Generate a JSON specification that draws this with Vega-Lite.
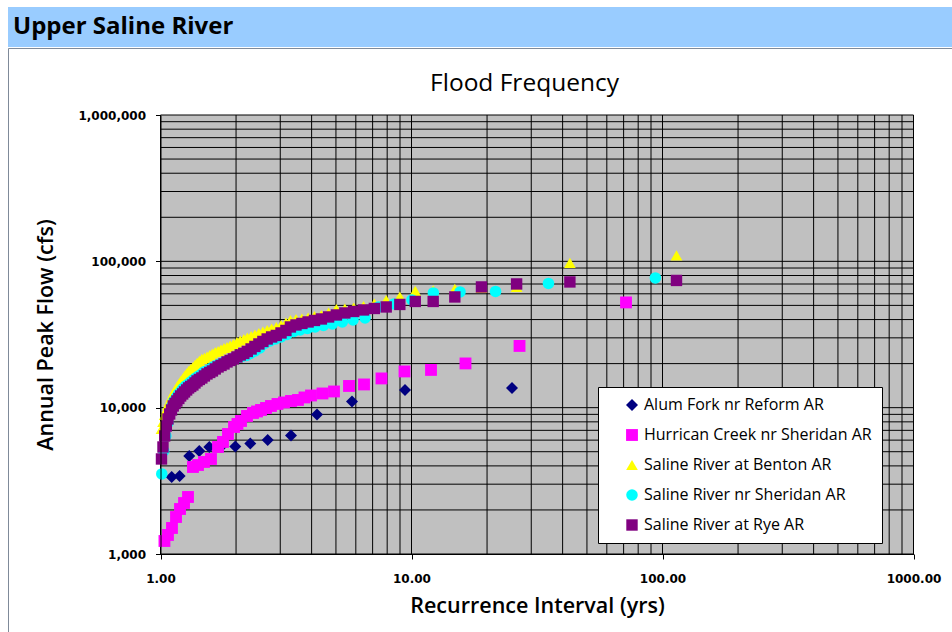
{
"$schema":"https://vega.github.io/schema/vega-lite/v6.json",
"padding":{"left":7,"top":7,"right":0,"bottom":0},
"background":"white",
"config":{"view":{"stroke":null},"font":"Open Sans"},
"spacing":0,
"datasets":{
"gx":[{"v":1},{"v":2},{"v":3},{"v":4},{"v":5},{"v":6},{"v":7},{"v":8},{"v":9},{"v":10},{"v":20},{"v":30},{"v":40},{"v":50},{"v":60},{"v":70},{"v":80},{"v":90},{"v":100},{"v":200},{"v":300},{"v":400},{"v":500},{"v":600},{"v":700},{"v":800},{"v":900},{"v":1000}],
"gy":[{"v":1000},{"v":2000},{"v":3000},{"v":4000},{"v":5000},{"v":6000},{"v":7000},{"v":8000},{"v":9000},{"v":10000},{"v":20000},{"v":30000},{"v":40000},{"v":50000},{"v":60000},{"v":70000},{"v":80000},{"v":90000},{"v":100000},{"v":200000},{"v":300000},{"v":400000},{"v":500000},{"v":600000},{"v":700000},{"v":800000},{"v":900000},{"v":1000000}],
"flows":[
{"s":"Alum Fork nr Reform AR","T":1.108,"Q":3359},
{"s":"Alum Fork nr Reform AR","T":1.192,"Q":3414},
{"s":"Alum Fork nr Reform AR","T":1.302,"Q":4677},
{"s":"Alum Fork nr Reform AR","T":1.427,"Q":5058},
{"s":"Alum Fork nr Reform AR","T":1.565,"Q":5387},
{"s":"Alum Fork nr Reform AR","T":1.742,"Q":5400},
{"s":"Alum Fork nr Reform AR","T":1.986,"Q":5430},
{"s":"Alum Fork nr Reform AR","T":2.279,"Q":5692},
{"s":"Alum Fork nr Reform AR","T":2.674,"Q":6015},
{"s":"Alum Fork nr Reform AR","T":3.311,"Q":6457},
{"s":"Alum Fork nr Reform AR","T":4.203,"Q":8985},
{"s":"Alum Fork nr Reform AR","T":5.794,"Q":11025},
{"s":"Alum Fork nr Reform AR","T":9.422,"Q":13213},
{"s":"Alum Fork nr Reform AR","T":25.14,"Q":13636},
{"s":"Hurrican Creek nr Sheridan AR","T":1.037,"Q":1227},
{"s":"Hurrican Creek nr Sheridan AR","T":1.071,"Q":1349},
{"s":"Hurrican Creek nr Sheridan AR","T":1.111,"Q":1506},
{"s":"Hurrican Creek nr Sheridan AR","T":1.153,"Q":1790},
{"s":"Hurrican Creek nr Sheridan AR","T":1.196,"Q":2030},
{"s":"Hurrican Creek nr Sheridan AR","T":1.241,"Q":2231},
{"s":"Hurrican Creek nr Sheridan AR","T":1.287,"Q":2453},
{"s":"Hurrican Creek nr Sheridan AR","T":1.347,"Q":3932},
{"s":"Hurrican Creek nr Sheridan AR","T":1.411,"Q":4056},
{"s":"Hurrican Creek nr Sheridan AR","T":1.490,"Q":4255},
{"s":"Hurrican Creek nr Sheridan AR","T":1.589,"Q":4460},
{"s":"Hurrican Creek nr Sheridan AR","T":1.695,"Q":5387},
{"s":"Hurrican Creek nr Sheridan AR","T":1.774,"Q":5831},
{"s":"Hurrican Creek nr Sheridan AR","T":1.857,"Q":6609},
{"s":"Hurrican Creek nr Sheridan AR","T":1.963,"Q":7380},
{"s":"Hurrican Creek nr Sheridan AR","T":2.026,"Q":7738},
{"s":"Hurrican Creek nr Sheridan AR","T":2.093,"Q":8112},
{"s":"Hurrican Creek nr Sheridan AR","T":2.211,"Q":8777},
{"s":"Hurrican Creek nr Sheridan AR","T":2.336,"Q":9200},
{"s":"Hurrican Creek nr Sheridan AR","T":2.424,"Q":9420},
{"s":"Hurrican Creek nr Sheridan AR","T":2.514,"Q":9645},
{"s":"Hurrican Creek nr Sheridan AR","T":2.633,"Q":9953},
{"s":"Hurrican Creek nr Sheridan AR","T":2.755,"Q":10271},
{"s":"Hurrican Creek nr Sheridan AR","T":2.925,"Q":10600},
{"s":"Hurrican Creek nr Sheridan AR","T":3.105,"Q":10852},
{"s":"Hurrican Creek nr Sheridan AR","T":3.311,"Q":11111},
{"s":"Hurrican Creek nr Sheridan AR","T":3.530,"Q":11288},
{"s":"Hurrican Creek nr Sheridan AR","T":3.747,"Q":11744},
{"s":"Hurrican Creek nr Sheridan AR","T":3.977,"Q":12116},
{"s":"Hurrican Creek nr Sheridan AR","T":4.420,"Q":12504},
{"s":"Hurrican Creek nr Sheridan AR","T":4.912,"Q":12903},
{"s":"Hurrican Creek nr Sheridan AR","T":5.636,"Q":14071},
{"s":"Hurrican Creek nr Sheridan AR","T":6.469,"Q":14408},
{"s":"Hurrican Creek nr Sheridan AR","T":7.594,"Q":15839},
{"s":"Hurrican Creek nr Sheridan AR","T":9.378,"Q":17682},
{"s":"Hurrican Creek nr Sheridan AR","T":11.96,"Q":18108},
{"s":"Hurrican Creek nr Sheridan AR","T":16.41,"Q":20055},
{"s":"Hurrican Creek nr Sheridan AR","T":26.94,"Q":26413},
{"s":"Hurrican Creek nr Sheridan AR","T":71.56,"Q":52380},
{"s":"Saline River at Benton AR","T":1.009,"Q":7151},
{"s":"Saline River at Benton AR","T":1.023,"Q":7985},
{"s":"Saline River at Benton AR","T":1.039,"Q":8915},
{"s":"Saline River at Benton AR","T":1.055,"Q":9646},
{"s":"Saline River at Benton AR","T":1.071,"Q":10434},
{"s":"Saline River at Benton AR","T":1.088,"Q":11111},
{"s":"Saline River at Benton AR","T":1.106,"Q":11837},
{"s":"Saline River at Benton AR","T":1.124,"Q":12605},
{"s":"Saline River at Benton AR","T":1.143,"Q":13214},
{"s":"Saline River at Benton AR","T":1.162,"Q":13855},
{"s":"Saline River at Benton AR","T":1.183,"Q":14521},
{"s":"Saline River at Benton AR","T":1.203,"Q":15224},
{"s":"Saline River at Benton AR","T":1.226,"Q":15834},
{"s":"Saline River at Benton AR","T":1.247,"Q":16474},
{"s":"Saline River at Benton AR","T":1.271,"Q":17135},
{"s":"Saline River at Benton AR","T":1.294,"Q":17821},
{"s":"Saline River at Benton AR","T":1.319,"Q":18391},
{"s":"Saline River at Benton AR","T":1.346,"Q":18979},
{"s":"Saline River at Benton AR","T":1.372,"Q":19587},
{"s":"Saline River at Benton AR","T":1.398,"Q":20214},
{"s":"Saline River at Benton AR","T":1.428,"Q":20860},
{"s":"Saline River at Benton AR","T":1.461,"Q":21527},
{"s":"Saline River at Benton AR","T":1.496,"Q":21869},
{"s":"Saline River at Benton AR","T":1.532,"Q":22386},
{"s":"Saline River at Benton AR","T":1.571,"Q":22920},
{"s":"Saline River at Benton AR","T":1.610,"Q":23467},
{"s":"Saline River at Benton AR","T":1.652,"Q":24027},
{"s":"Saline River at Benton AR","T":1.696,"Q":24408},
{"s":"Saline River at Benton AR","T":1.742,"Q":24991},
{"s":"Saline River at Benton AR","T":1.791,"Q":25587},
{"s":"Saline River at Benton AR","T":1.841,"Q":25993},
{"s":"Saline River at Benton AR","T":1.895,"Q":26613},
{"s":"Saline River at Benton AR","T":1.952,"Q":27249},
{"s":"Saline River at Benton AR","T":2.016,"Q":28121},
{"s":"Saline River at Benton AR","T":2.078,"Q":28792},
{"s":"Saline River at Benton AR","T":2.147,"Q":29480},
{"s":"Saline River at Benton AR","T":2.217,"Q":30184},
{"s":"Saline River at Benton AR","T":2.296,"Q":30904},
{"s":"Saline River at Benton AR","T":2.378,"Q":31647},
{"s":"Saline River at Benton AR","T":2.466,"Q":32402},
{"s":"Saline River at Benton AR","T":2.558,"Q":33177},
{"s":"Saline River at Benton AR","T":2.661,"Q":33968},
{"s":"Saline River at Benton AR","T":2.771,"Q":34780},
{"s":"Saline River at Benton AR","T":2.893,"Q":35611},
{"s":"Saline River at Benton AR","T":3.021,"Q":36750},
{"s":"Saline River at Benton AR","T":3.160,"Q":38224},
{"s":"Saline River at Benton AR","T":3.293,"Q":39758},
{"s":"Saline River at Benton AR","T":3.466,"Q":40388},
{"s":"Saline River at Benton AR","T":3.659,"Q":40707},
{"s":"Saline River at Benton AR","T":3.873,"Q":41354},
{"s":"Saline River at Benton AR","T":4.107,"Q":42343},
{"s":"Saline River at Benton AR","T":4.375,"Q":43013},
{"s":"Saline River at Benton AR","T":4.674,"Q":44738},
{"s":"Saline River at Benton AR","T":5.021,"Q":47272},
{"s":"Saline River at Benton AR","T":5.425,"Q":47646},
{"s":"Saline River at Benton AR","T":5.886,"Q":48401},
{"s":"Saline River at Benton AR","T":6.440,"Q":49557},
{"s":"Saline River at Benton AR","T":7.111,"Q":51546},
{"s":"Saline River at Benton AR","T":7.929,"Q":54469},
{"s":"Saline River at Benton AR","T":8.984,"Q":57553},
{"s":"Saline River at Benton AR","T":10.35,"Q":62771},
{"s":"Saline River at Benton AR","T":12.20,"Q":63300},
{"s":"Saline River at Benton AR","T":14.88,"Q":64800},
{"s":"Saline River at Benton AR","T":19.00,"Q":65790},
{"s":"Saline River at Benton AR","T":26.23,"Q":66835},
{"s":"Saline River at Benton AR","T":42.76,"Q":97516},
{"s":"Saline River at Benton AR","T":113.7,"Q":109730},
{"s":"Saline River nr Sheridan AR","T":1.012,"Q":3524},
{"s":"Saline River nr Sheridan AR","T":1.03,"Q":5058},
{"s":"Saline River nr Sheridan AR","T":1.05,"Q":6408},
{"s":"Saline River nr Sheridan AR","T":1.07,"Q":7860},
{"s":"Saline River nr Sheridan AR","T":1.09,"Q":9201},
{"s":"Saline River nr Sheridan AR","T":1.11,"Q":10271},
{"s":"Saline River nr Sheridan AR","T":1.13,"Q":11111},
{"s":"Saline River nr Sheridan AR","T":1.16,"Q":11837},
{"s":"Saline River nr Sheridan AR","T":1.18,"Q":12408},
{"s":"Saline River nr Sheridan AR","T":1.21,"Q":13008},
{"s":"Saline River nr Sheridan AR","T":1.23,"Q":13530},
{"s":"Saline River nr Sheridan AR","T":1.26,"Q":14073},
{"s":"Saline River nr Sheridan AR","T":1.29,"Q":14521},
{"s":"Saline River nr Sheridan AR","T":1.32,"Q":14987},
{"s":"Saline River nr Sheridan AR","T":1.35,"Q":15466},
{"s":"Saline River nr Sheridan AR","T":1.38,"Q":15959},
{"s":"Saline River nr Sheridan AR","T":1.42,"Q":16474},
{"s":"Saline River nr Sheridan AR","T":1.46,"Q":16999},
{"s":"Saline River nr Sheridan AR","T":1.49,"Q":17543},
{"s":"Saline River nr Sheridan AR","T":1.54,"Q":17962},
{"s":"Saline River nr Sheridan AR","T":1.58,"Q":18391},
{"s":"Saline River nr Sheridan AR","T":1.62,"Q":18979},
{"s":"Saline River nr Sheridan AR","T":1.67,"Q":19433},
{"s":"Saline River nr Sheridan AR","T":1.72,"Q":19897},
{"s":"Saline River nr Sheridan AR","T":1.78,"Q":20374},
{"s":"Saline River nr Sheridan AR","T":1.84,"Q":20860},
{"s":"Saline River nr Sheridan AR","T":1.90,"Q":21358},
{"s":"Saline River nr Sheridan AR","T":1.97,"Q":21697},
{"s":"Saline River nr Sheridan AR","T":2.04,"Q":22036},
{"s":"Saline River nr Sheridan AR","T":2.11,"Q":22386},
{"s":"Saline River nr Sheridan AR","T":2.20,"Q":22738},
{"s":"Saline River nr Sheridan AR","T":2.28,"Q":23467},
{"s":"Saline River nr Sheridan AR","T":2.38,"Q":24408},
{"s":"Saline River nr Sheridan AR","T":2.49,"Q":25587},
{"s":"Saline River nr Sheridan AR","T":2.60,"Q":27464},
{"s":"Saline River nr Sheridan AR","T":2.73,"Q":28567},
{"s":"Saline River nr Sheridan AR","T":2.87,"Q":29480},
{"s":"Saline River nr Sheridan AR","T":3.02,"Q":30422},
{"s":"Saline River nr Sheridan AR","T":3.19,"Q":31647},
{"s":"Saline River nr Sheridan AR","T":3.39,"Q":33177},
{"s":"Saline River nr Sheridan AR","T":3.60,"Q":33968},
{"s":"Saline River nr Sheridan AR","T":3.85,"Q":34780},
{"s":"Saline River nr Sheridan AR","T":4.13,"Q":35611},
{"s":"Saline River nr Sheridan AR","T":4.46,"Q":36461},
{"s":"Saline River nr Sheridan AR","T":4.84,"Q":37332},
{"s":"Saline River nr Sheridan AR","T":5.30,"Q":38525},
{"s":"Saline River nr Sheridan AR","T":5.85,"Q":39758},
{"s":"Saline River nr Sheridan AR","T":6.53,"Q":41030},
{"s":"Saline River nr Sheridan AR","T":7.39,"Q":48784},
{"s":"Saline River nr Sheridan AR","T":8.52,"Q":51145},
{"s":"Saline River nr Sheridan AR","T":10.04,"Q":54469},
{"s":"Saline River nr Sheridan AR","T":12.22,"Q":60814},
{"s":"Saline River nr Sheridan AR","T":15.61,"Q":61779},
{"s":"Saline River nr Sheridan AR","T":21.62,"Q":62270},
{"s":"Saline River nr Sheridan AR","T":35.13,"Q":70613},
{"s":"Saline River nr Sheridan AR","T":93.67,"Q":77007},
{"s":"Saline River at Rye AR","T":1.009,"Q":4461},
{"s":"Saline River at Rye AR","T":1.023,"Q":5387},
{"s":"Saline River at Rye AR","T":1.039,"Q":6408},
{"s":"Saline River at Rye AR","T":1.055,"Q":7498},
{"s":"Saline River at Rye AR","T":1.071,"Q":8372},
{"s":"Saline River at Rye AR","T":1.088,"Q":9057},
{"s":"Saline River at Rye AR","T":1.106,"Q":9646},
{"s":"Saline River at Rye AR","T":1.124,"Q":10271},
{"s":"Saline River at Rye AR","T":1.143,"Q":10683},
{"s":"Saline River at Rye AR","T":1.162,"Q":11111},
{"s":"Saline River at Rye AR","T":1.183,"Q":11560},
{"s":"Saline River at Rye AR","T":1.203,"Q":12024},
{"s":"Saline River at Rye AR","T":1.226,"Q":12408},
{"s":"Saline River at Rye AR","T":1.247,"Q":12805},
{"s":"Saline River at Rye AR","T":1.271,"Q":13214},
{"s":"Saline River at Rye AR","T":1.294,"Q":13637},
{"s":"Saline River at Rye AR","T":1.319,"Q":13963},
{"s":"Saline River at Rye AR","T":1.346,"Q":14296},
{"s":"Saline River at Rye AR","T":1.372,"Q":14754},
{"s":"Saline River at Rye AR","T":1.398,"Q":15224},
{"s":"Saline River at Rye AR","T":1.428,"Q":15587},
{"s":"Saline River at Rye AR","T":1.461,"Q":15959},
{"s":"Saline River at Rye AR","T":1.496,"Q":16474},
{"s":"Saline River at Rye AR","T":1.532,"Q":16999},
{"s":"Saline River at Rye AR","T":1.571,"Q":17405},
{"s":"Saline River at Rye AR","T":1.610,"Q":17821},
{"s":"Saline River at Rye AR","T":1.652,"Q":18391},
{"s":"Saline River at Rye AR","T":1.696,"Q":18979},
{"s":"Saline River at Rye AR","T":1.742,"Q":19433},
{"s":"Saline River at Rye AR","T":1.791,"Q":19897},
{"s":"Saline River at Rye AR","T":1.841,"Q":20535},
{"s":"Saline River at Rye AR","T":1.895,"Q":21025},
{"s":"Saline River at Rye AR","T":1.952,"Q":21527},
{"s":"Saline River at Rye AR","T":2.016,"Q":22210},
{"s":"Saline River at Rye AR","T":2.078,"Q":22920},
{"s":"Saline River at Rye AR","T":2.147,"Q":23467},
{"s":"Saline River at Rye AR","T":2.217,"Q":24217},
{"s":"Saline River at Rye AR","T":2.296,"Q":25189},
{"s":"Saline River at Rye AR","T":2.378,"Q":26198},
{"s":"Saline River at Rye AR","T":2.466,"Q":27249},
{"s":"Saline River at Rye AR","T":2.558,"Q":28343},
{"s":"Saline River at Rye AR","T":2.661,"Q":29480},
{"s":"Saline River at Rye AR","T":2.771,"Q":30422},
{"s":"Saline River at Rye AR","T":2.893,"Q":31149},
{"s":"Saline River at Rye AR","T":3.021,"Q":32402},
{"s":"Saline River at Rye AR","T":3.160,"Q":33700},
{"s":"Saline River at Rye AR","T":3.293,"Q":35611},
{"s":"Saline River at Rye AR","T":3.466,"Q":36750},
{"s":"Saline River at Rye AR","T":3.659,"Q":37627},
{"s":"Saline River at Rye AR","T":3.873,"Q":38525},
{"s":"Saline River at Rye AR","T":4.107,"Q":39447},
{"s":"Saline River at Rye AR","T":4.375,"Q":40388},
{"s":"Saline River at Rye AR","T":4.674,"Q":41683},
{"s":"Saline River at Rye AR","T":5.021,"Q":43013},
{"s":"Saline River at Rye AR","T":5.425,"Q":44386},
{"s":"Saline River at Rye AR","T":5.886,"Q":45446},
{"s":"Saline River at Rye AR","T":6.440,"Q":46535},
{"s":"Saline River at Rye AR","T":7.111,"Q":47646},
{"s":"Saline River at Rye AR","T":7.929,"Q":48784},
{"s":"Saline River at Rye AR","T":8.984,"Q":50743},
{"s":"Saline River at Rye AR","T":10.35,"Q":53197},
{"s":"Saline River at Rye AR","T":12.20,"Q":53197},
{"s":"Saline River at Rye AR","T":14.88,"Q":57102},
{"s":"Saline River at Rye AR","T":19.00,"Q":66835},
{"s":"Saline River at Rye AR","T":26.23,"Q":70060},
{"s":"Saline River at Rye AR","T":42.76,"Q":72302},
{"s":"Saline River at Rye AR","T":113.7,"Q":74030}
]},
"vconcat":[
{
"width":945,"height":40,
"view":{"fill":"#99CCFF","stroke":null},
"data":{"values":[{"h":1}]},
"mark":{"type":"rect","color":"#99CCFF"},
"encoding":{},
"title":{"text":"Upper Saline River","anchor":"start","frame":"group","orient":"top","offset":-51,"baseline":"alphabetic","dx":5,"font":"Open Sans","fontSize":24,"fontWeight":"bold","color":"#000000"}
},
{
"width":945,"height":585,
"view":{"fill":"#ffffff","stroke":"#7f8a99"},
"title":{"text":"Flood Frequency","anchor":"middle","frame":"group","orient":"top","offset":-67,"baseline":"alphabetic","dx":44,"font":"Open Sans","fontSize":24.5,"fontWeight":"normal","color":"#000000"},
"layer":[
{
"data":{"values":[{"a":1}]},
"mark":{"type":"rect","color":"#C0C0C0"},
"encoding":{
"x":{"datum":1,"type":"quantitative","scale":{"type":"log","domain":[1,1000],"range":[152.5,905.5],"nice":false}},
"x2":{"datum":1000},
"y":{"datum":1000,"type":"quantitative","scale":{"type":"log","domain":[1000,1000000],"range":[506,67],"nice":false}},
"y2":{"datum":1000000}
}
},
{
"data":{"name":"gy"},
"mark":{"type":"rule","color":"#000000","strokeWidth":1},
"encoding":{
"y":{"field":"v","type":"quantitative","scale":{"type":"log","domain":[1000,1000000],"range":[506,67],"nice":false}},
"x":{"datum":1,"type":"quantitative","scale":{"type":"log","domain":[1,1000],"range":[152.5,905.5],"nice":false}},
"x2":{"datum":1000}
}
},
{
"data":{"name":"gx"},
"mark":{"type":"rule","color":"#000000","strokeWidth":1},
"encoding":{
"x":{"field":"v","type":"quantitative","scale":{"type":"log","domain":[1,1000],"range":[152.5,905.5],"nice":false}},
"y":{"datum":1000,"type":"quantitative","scale":{"type":"log","domain":[1000,1000000],"range":[506,67],"nice":false}},
"y2":{"datum":1000000}
}
},
{
"data":{"name":"flows"},
"mark":{"type":"point","filled":true,"opacity":1},
"encoding":{
"x":{"field":"T","type":"quantitative","scale":{"type":"log","domain":[1,1000],"range":[152.5,905.5],"nice":false},
"axis":{"title":"Recurrence Interval (yrs)","orient":"bottom","offset":-79,"zindex":1,"values":[1,10,100,1000],"format":".2f","grid":false,"labelFlush":false,"labelOverlap":false,"labelFont":"DejaVu Sans","labelFontWeight":"bold","labelFontSize":12,"labelColor":"#000000","labelPadding":14,"tickSize":5,"tickColor":"#000000","domainColor":"#000000","titleFont":"Open Sans","titleFontSize":21.5,"titleFontWeight":600,"titleColor":"#000000","titlePadding":11}},
"y":{"field":"Q","type":"quantitative","scale":{"type":"log","domain":[1000,1000000],"range":[506,67],"nice":false},
"axis":{"title":"Annual Peak Flow (cfs)","orient":"left","offset":-152.5,"zindex":1,"values":[1000,10000,100000,1000000],"format":",","grid":false,"labelFlush":false,"labelOverlap":false,"labelFont":"DejaVu Sans","labelFontWeight":"bold","labelFontSize":12,"labelColor":"#000000","labelPadding":10,"tickSize":5,"tickColor":"#000000","domainColor":"#000000","titleFont":"Open Sans","titleFontSize":21.5,"titleFontWeight":600,"titleColor":"#000000","titlePadding":20}},
"color":{"field":"s","type":"nominal","scale":{"domain":["Alum Fork nr Reform AR","Hurrican Creek nr Sheridan AR","Saline River at Benton AR","Saline River nr Sheridan AR","Saline River at Rye AR"],"range":["#000080","#FF00FF","#FFFF00","#00FFFF","#800080"]},
"legend":{"title":null,"orient":"none","legendX":590,"legendY":380,"fillColor":"#ffffff","strokeColor":"#000000","padding":10,"symbolOffset":16,"labelOffset":4,"rowPadding":14,"labelLimit":400,"labelFont":"Open Sans","labelFontSize":16,"labelColor":"#000000","symbolSize":100,"symbolStrokeWidth":0}},
"shape":{"field":"s","type":"nominal","scale":{"domain":["Alum Fork nr Reform AR","Hurrican Creek nr Sheridan AR","Saline River at Benton AR","Saline River nr Sheridan AR","Saline River at Rye AR"],"range":["diamond","square","triangle-up","circle","square"]}},
"size":{"field":"s","type":"nominal","scale":{"domain":["Alum Fork nr Reform AR","Hurrican Creek nr Sheridan AR","Saline River at Benton AR","Saline River nr Sheridan AR","Saline River at Rye AR"],"range":[144,130,150,100,135]},"legend":null}
}
}
]
}
]
}
